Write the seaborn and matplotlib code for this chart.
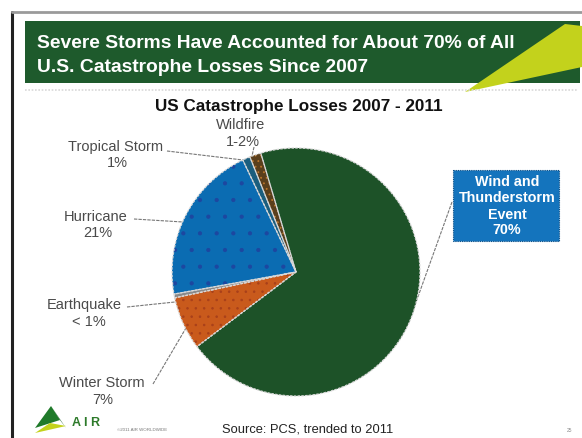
import matplotlib
matplotlib.use("Agg")
import matplotlib.pyplot as plt
from matplotlib.patches import Rectangle, Polygon
import seaborn as sns

# Loss shares (percent) as labelled
categories = ["Wind and Thunderstorm Event", "Wildfire", "Tropical Storm",
              "Hurricane", "Earthquake", "Winter Storm"]
shares = [70, 1.5, 1, 21, 0.5, 7]
share_labels = ["70%", "1-2%", "1%", "21%", "< 1%", "7%"]

slice_colors = ["#1d5228", "#5a3f1c", "#1b5e7e", "#0b6cb2", "#8a8a8a", "#c95a1c"]
hatch_colors = ["#1d5228", "#b8742a", "#1b5e7e", "#1d47a0", "#8a8a8a", "#a8401a"]
hatches = [None, "...", None, ".", None, ".."]

title_lines = ["Severe Storms Have Accounted for About 70% of All",
               "U.S. Catastrophe Losses Since 2007"]
chart_title = "US Catastrophe Losses 2007 - 2011"
source_note = "Source: PCS, trended to 2011"

sns.set_theme(style="white")
plt.rcParams["font.family"] = ["Liberation Sans", "DejaVu Sans"]
plt.rcParams["hatch.linewidth"] = 0.6

W, H = 582, 438
fig = plt.figure(figsize=(W / 100, H / 100), dpi=100)
fig.patch.set_facecolor("white")

# full-figure overlay in pixel coordinates (y downward)
bg = fig.add_axes([0, 0, 1, 1])
bg.set_xlim(0, W)
bg.set_ylim(H, 0)
bg.axis("off")

# slide frame
bg.plot([12, 12], [12, H], color="#222222", lw=2.2)
bg.plot([12, W], [12, 12], color="#9a9a9a", lw=2.0)
# header band with lime wedge
bg.add_patch(Rectangle((25, 21), 555, 62, facecolor="#1e5a2c", edgecolor="none"))
bg.add_patch(Polygon([(465, 92), (565, 24), (582, 26), (582, 67)],
                     closed=True, facecolor="#c3d21c", edgecolor="none"))
bg.plot([25, W - 5], [90, 90], color="#d8d8d8", lw=1.2, ls=(0, (1, 1)))
bg.text(37, 43, title_lines[0], color="white", fontsize=13.9,
        fontweight="bold", va="center", ha="left")
bg.text(37, 68, title_lines[1], color="white", fontsize=13.9,
        fontweight="bold", va="center", ha="left")

bg.text(299, 106, chart_title, color="#111111", fontsize=12.3,
        fontweight="bold", ha="center", va="center")

# pie axes sized to the pie's bounding box
px0, px1, py0, py1 = 172, 420, 148, 396
ax = fig.add_axes([px0 / W, 1 - py1 / H, (px1 - px0) / W, (py1 - py0) / H])
wedges, _ = ax.pie(shares, colors=slice_colors, startangle=217,
                   counterclock=True, radius=1.0)
for w, hc, hp in zip(wedges, hatch_colors, hatches):
    w.set_edgecolor(hc)
    w.set_linewidth(0)
    if hp:
        w.set_hatch(hp)
# light separators between slices
ax.pie(shares, colors=["none"] * len(shares), startangle=217, counterclock=True,
       radius=1.0, wedgeprops=dict(edgecolor="#d8d8d8", linewidth=0.9,
                                    linestyle=(0, (2, 1)), fill=False))
ax.set_aspect("auto")
ax.set_xlim(-1, 1)
ax.set_ylim(-1, 1)
ax.axis("off")

lab_kw = dict(color="#4a4a4a", fontsize=10.5, ha="center", va="center")
lead_kw = dict(color="#777777", lw=0.8, ls=(0, (3, 1)))

# Tropical Storm
bg.text(116, 147, categories[2], **lab_kw)
bg.text(117, 163, share_labels[2], **lab_kw)
bg.plot([167, 243], [151, 160], **lead_kw)
# Wildfire
bg.text(241, 125, categories[1], **lab_kw)
bg.text(243, 142, share_labels[1], **lab_kw)
bg.plot([254, 252], [147, 156], **lead_kw)
# Hurricane
bg.text(96, 217, categories[3], **lab_kw)
bg.text(98, 233, share_labels[3], **lab_kw)
bg.plot([134, 183], [219, 222], **lead_kw)
# Earthquake
bg.text(84, 305, categories[4], **lab_kw)
bg.text(89, 322, share_labels[4], **lab_kw)
bg.plot([127, 175], [307, 302], **lead_kw)
# Winter Storm
bg.text(102, 383, categories[5], **lab_kw)
bg.text(103, 400, share_labels[5], **lab_kw)
bg.plot([153, 186], [384, 328], **lead_kw)

# Wind and Thunderstorm callout box
bg.add_patch(Rectangle((453, 170), 106, 71, facecolor="#1474bd",
                       edgecolor="#0d4f86", lw=0.8, ls=(0, (1, 1))))
for txt, yy in zip(["Wind and", "Thunderstorm", "Event", share_labels[0]],
                   [182, 198, 215, 230]):
    bg.text(507, yy, txt, color="white", fontsize=10.3, fontweight="bold",
            ha="center", va="center")
bg.plot([452, 415], [202, 305], **lead_kw)

# footer: logo, copyright, source, page number
bg.add_patch(Polygon([(35, 428), (51, 406), (60, 420)], closed=True,
                     facecolor="#1f7a2a", edgecolor="none"))
bg.add_patch(Polygon([(51, 406), (66, 428), (60, 420)], closed=True,
                     facecolor="#145a1e", edgecolor="none"))
bg.add_patch(Polygon([(35, 433), (66, 426), (50, 423)], closed=True,
                     facecolor="#c3d21c", edgecolor="none"))
bg.text(72, 423, "A I R", color="#2d7a2a", fontsize=9, fontweight="bold",
        ha="left", va="center")
bg.text(117, 430, "©2011 AIR WORLDWIDE", color="#777777", fontsize=3.2,
        ha="left", va="center")
bg.text(222, 429, source_note, color="#222222", fontsize=9.3,
        ha="left", va="center")
bg.text(570, 430, "25", color="#888888", fontsize=3.5, ha="center", va="center")

fig.savefig("out.png", dpi=100)
